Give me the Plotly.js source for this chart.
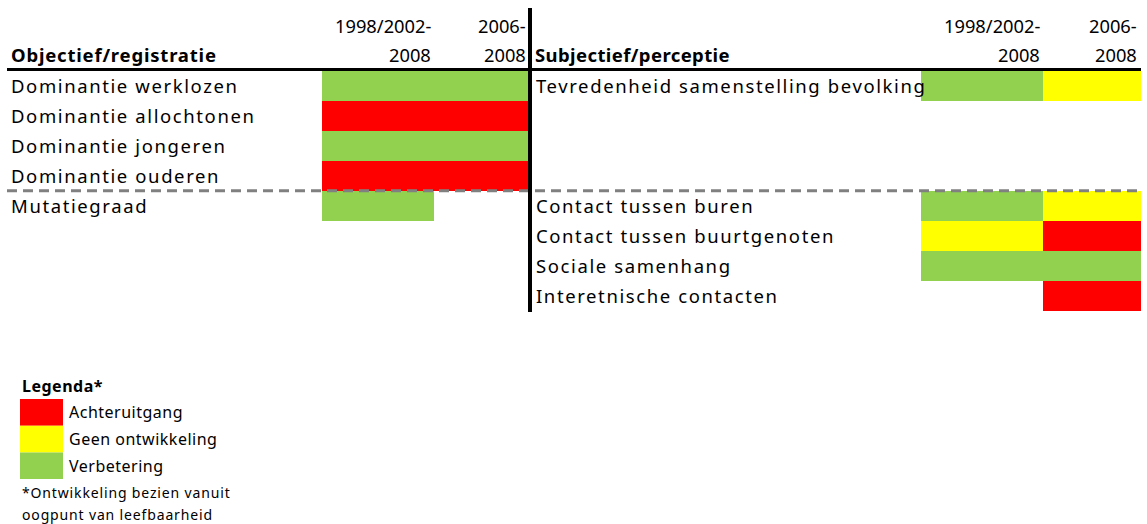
<!DOCTYPE html>
<html>
<head>
<meta charset="utf-8">
<script src="https://cdn.plot.ly/plotly-3.0.1.min.js"></script>
<style>
html,body{margin:0;padding:0;background:#fff;}
#chart{width:1147px;height:524px;}
</style>
</head>
<body>
<div id="chart"></div>
<script>
// ---- data ----
const periods = ["1998/2002-\n2008", "2006-\n2008"];
const categories = ["Achteruitgang", "Geen ontwikkeling", "Verbetering"];
const categoryColors = ["#FF0000", "#FFFF00", "#92D050"];

const leftTitle = "Objectief/registratie";
const leftRows = ["Dominantie werklozen", "Dominantie allochtonen", "Dominantie jongeren", "Dominantie ouderen", "Mutatiegraad"];
const left1998 = ["Verbetering", "Achteruitgang", "Verbetering", "Achteruitgang", "Verbetering"];
const left2006 = ["Verbetering", "Achteruitgang", "Verbetering", "Achteruitgang", null];

const rightTitle = "Subjectief/perceptie";
const rightRows = ["Tevredenheid samenstelling bevolking", "", "", "", "Contact tussen buren", "Contact tussen buurtgenoten", "Sociale samenhang", "Interetnische contacten"];
const right1998 = ["Verbetering", null, null, null, "Verbetering", "Geen ontwikkeling", "Verbetering", null];
const right2006 = ["Geen ontwikkeling", null, null, null, "Geen ontwikkeling", "Achteruitgang", "Verbetering", "Achteruitgang"];

const legendTitle = "Legenda*";
const legendNote = ["*Ontwikkeling bezien vanuit", "oogpunt van leefbaarheid"];

// ---- layout constants ----
const W = 1147, H = 524;
const ROW_H = 29.95, TOP = 71;
const toRow = px => (px - TOP) / ROW_H - 0.5;   // pixel y -> row units
const FONT = "Noto Sans, sans-serif";
const leftEdges = [322, 434, 529];
const rightEdges = [921, 1043, 1141];
const leftLabelX = 9, rightLabelX = 534;

const catIndex = c => c === null ? null : categories.indexOf(c);
const colorscale = [[0, categoryColors[0]], [0.25, categoryColors[0]], [0.25, categoryColors[1]], [0.75, categoryColors[1]], [0.75, categoryColors[2]], [1, categoryColors[2]]];

function tableTrace(rows, c1, c2, edges) {
  return {
    type: "heatmap",
    x: edges,
    y: rows.map((_, i) => i),
    z: rows.map((_, i) => [catIndex(c1[i]), catIndex(c2[i])]),
    zmin: 0, zmax: 2,
    colorscale: colorscale,
    showscale: false,
    hoverinfo: "skip"
  };
}

const data = [
  tableTrace(leftRows, left1998, left2006, leftEdges),
  tableTrace(rightRows, right1998, right2006, rightEdges)
];

const spaced = (t, ls) => '<span style="letter-spacing:' + ls + 'px">' + t + '</span>';
const ann = [];
const txt = (x, y, text, opts) => Object.assign({
  xref: "x", yref: "y", x: x, y: y, text: text, showarrow: false,
  xanchor: "left", yanchor: "middle",
  font: {family: FONT, size: 18.5, color: "#000"}
}, opts || {});

leftRows.forEach((r, i) => { if (r) ann.push(txt(leftLabelX, i, spaced(r, 1.6))); });
rightRows.forEach((r, i) => { if (r) ann.push(txt(rightLabelX, i, spaced(r, 1.6))); });

ann.push(txt(leftLabelX, toRow(54), "<b>" + spaced(leftTitle, 0.8) + "</b>"));
ann.push(txt(rightLabelX - 1, toRow(54), "<b>" + spaced(rightTitle, 0.4) + "</b>"));

function headers(edges) {
  periods.forEach((p, j) => {
    const parts = p.split("\n");
    ann.push(txt(edges[j + 1] - 1, toRow(25), parts[0], {xanchor: "right", font: {family: FONT, size: 18.3, color: "#000"}}));
    ann.push(txt(edges[j + 1] - 1, toRow(54), parts[1], {xanchor: "right", font: {family: FONT, size: 18.3, color: "#000"}}));
  });
}
headers(leftEdges);
headers([rightEdges[0], rightEdges[1], rightEdges[2] - 1]);

// legend
const legTop = 399, legH = 26.7;
ann.push(txt(20, toRow(386), "<b>" + spaced(legendTitle, 0.5) + "</b>", {font: {family: FONT, size: 16, color: "#000"}}));
const shapes = [];
categories.forEach((c, k) => {
  shapes.push({type: "rect", xref: "x", yref: "y", x0: 20, x1: 63,
    y0: toRow(legTop + k * legH), y1: toRow(legTop + (k + 1) * legH),
    fillcolor: categoryColors[k], line: {width: 0}, layer: "below"});
  ann.push(txt(67, toRow(legTop + (k + 0.5) * legH), spaced(c, 0.5), {font: {family: FONT, size: 16, color: "#000"}}));
});
legendNote.forEach((t, k) => ann.push(txt(20, toRow(492 + k * 22), spaced(t, 0.85), {font: {family: FONT, size: 14, color: "#000"}})));

// lines
shapes.push({type: "line", xref: "x", yref: "y", x0: 7, x1: 1141, y0: toRow(69.5), y1: toRow(69.5), line: {color: "#000", width: 3}});
shapes.push({type: "line", xref: "x", yref: "y", x0: 7, x1: 1141, y0: 3.5, y1: 3.5, line: {color: "#808080", width: 3, dash: "10px,6px"}});
shapes.push({type: "line", xref: "x", yref: "y", x0: 530, x1: 530, y0: toRow(8), y1: toRow(312), line: {color: "#000", width: 4}});

const layout = {
  width: W, height: H,
  margin: {l: 0, r: 0, t: 0, b: 0},
  paper_bgcolor: "#fff", plot_bgcolor: "#fff",
  showlegend: false,
  xaxis: {range: [0, W], visible: false, fixedrange: true},
  yaxis: {range: [toRow(H), toRow(0)], visible: false, fixedrange: true},
  annotations: ann,
  shapes: shapes
};

Plotly.newPlot("chart", data, layout, {staticPlot: true});
</script>
</body>
</html>
